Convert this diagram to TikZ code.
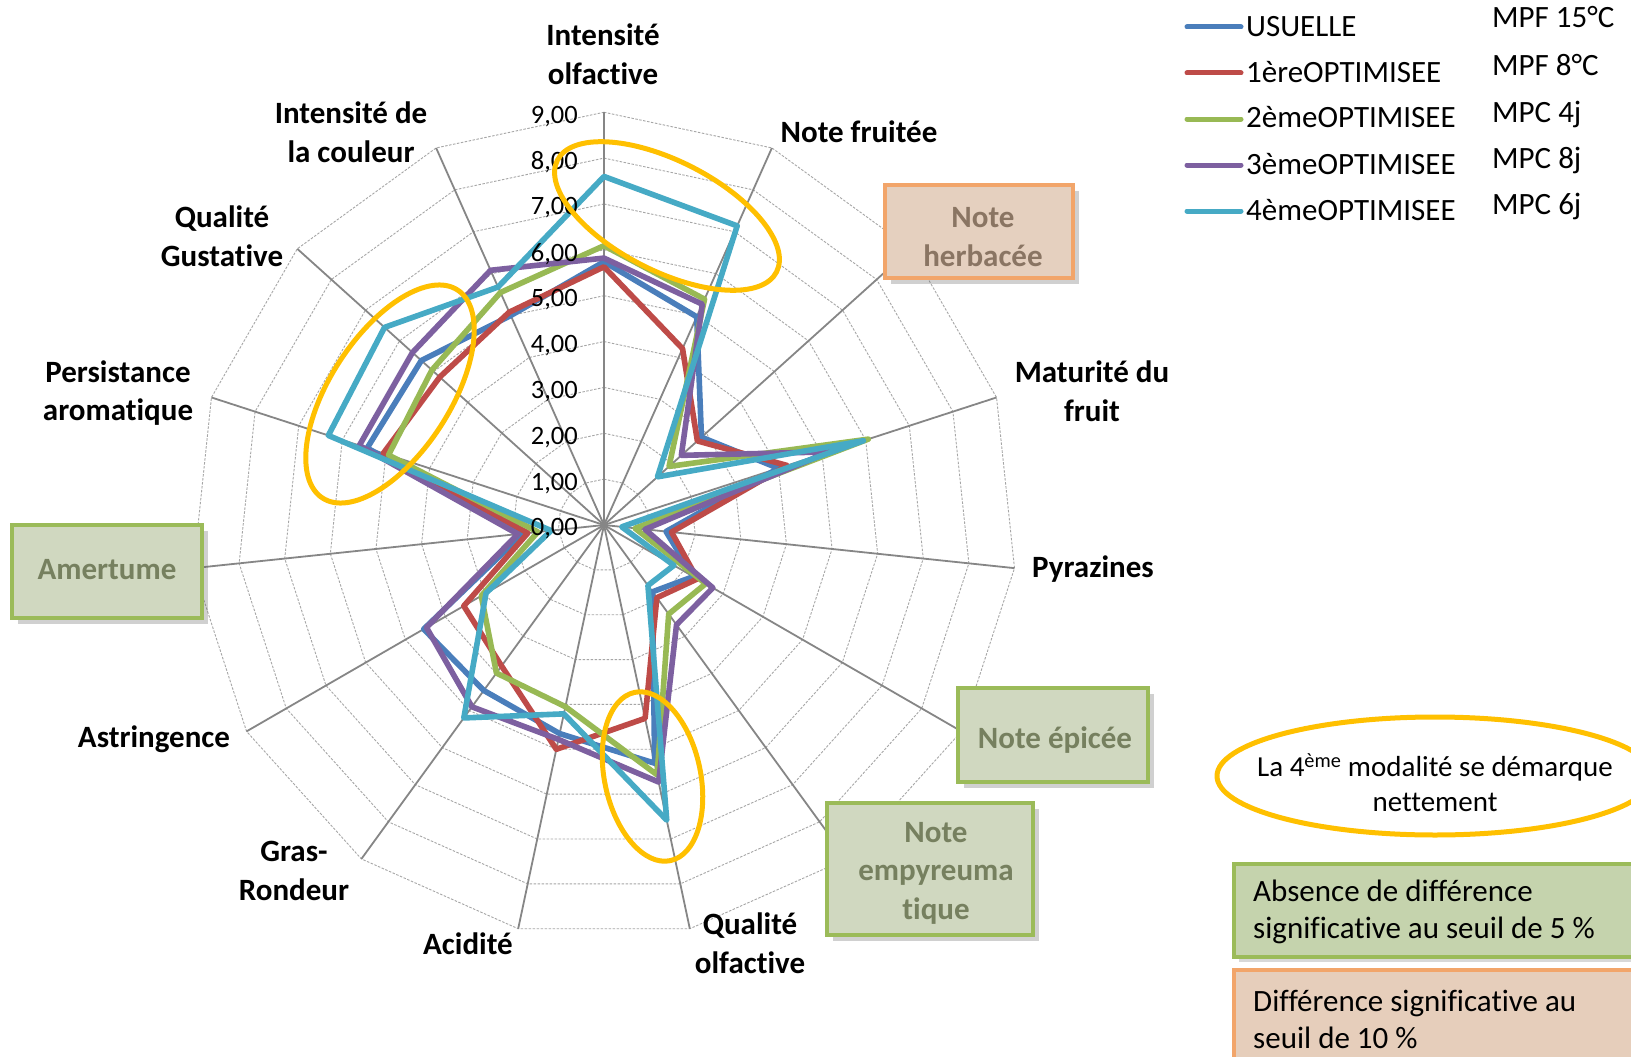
\documentclass[tikz,border=0pt]{standalone}
\usepackage{fontspec}
\setmainfont{Carlito}[Ligatures={NoCommon,NoRare,NoContextual},RawFeature={-liga;-clig;-dlig;-calt}]
\usetikzlibrary{shadows}
\definecolor{serA}{HTML}{4A7EBB}
\definecolor{serB}{HTML}{BE4B48}
\definecolor{serC}{HTML}{98B954}
\definecolor{serD}{HTML}{7D60A0}
\definecolor{serE}{HTML}{46AAC5}
\definecolor{axisgray}{HTML}{868686}
\definecolor{gridgray}{HTML}{A6A6A6}
\definecolor{hlyellow}{HTML}{FFC000}
\definecolor{grfill}{HTML}{D0D8C0}
\definecolor{grline}{HTML}{9BBB59}
\definecolor{grtext}{HTML}{76805F}
\definecolor{orfill}{HTML}{E5D0BF}
\definecolor{orline}{HTML}{F2A56A}
\definecolor{ortext}{HTML}{8A7563}
\definecolor{grfilltwo}{HTML}{C5D3AD}
\definecolor{orfilltwo}{HTML}{E6CEBB}
\newcommand{\radarseries}[3]{\draw[serline,#1] (-90:#2) \foreach \v [count=\k] in {#3}{ -- ({-90+24*\k}:\v)} -- cycle;}
\begin{document}
\begin{tikzpicture}[x=1pt,y=-1pt,
  gridline/.style={draw=gridgray,line width=0.9pt,dash pattern=on 2.5pt off 1.5pt},
  axisline/.style={draw=axisgray,line width=1.8pt},
  serline/.style={line width=5.6pt,line join=round},
  hl/.style={draw=hlyellow,line width=5pt},
  ticklab/.style={anchor=east,inner sep=0pt,font=\fontsize{26.5}{30}\selectfont},
  axlab/.style={align=center,inner sep=0pt,font=\bfseries\fontsize{31}{38.5}\selectfont},
  labbox/.style={draw,line width=4pt,inner sep=0pt,
     drop shadow={shadow xshift=6pt,shadow yshift=-6pt,opacity=0.3,fill=black!60}},
  labtext/.style={align=center,inner sep=0pt,font=\bfseries\fontsize{31}{38.5}\selectfont},
  legtext/.style={anchor=base west,inner sep=0pt,font=\fontsize{31}{36}\selectfont},
  notebox/.style={draw,line width=4pt,anchor=north west,inner sep=0pt,
     minimum width=420pt,
     drop shadow={shadow xshift=5pt,shadow yshift=-5pt,opacity=0.25,fill=black!60}},
  notetext/.style={anchor=west,align=left,inner sep=0pt,font=\fontsize{31}{37}\selectfont}
]
\useasboundingbox (0,0) rectangle (1631,1057);
\clip (0,0) rectangle (1631,1057);
\fill[white] (0,0) rectangle (1631,1057);

% ---- radar chart ----
\begin{scope}[shift={(604,525)},x=45.86pt,y=-45.86pt]
  \foreach \l in {1,...,9}
    \draw[gridline] (-90:\l) \foreach \k in {1,...,14}{ -- ({-90+24*\k}:\l)} -- cycle;
  \foreach \k in {0,...,14}
    \draw[axisline] (0,0) -- ({-90+24*\k}:9);
  \radarseries{serA}{5.74}{4.97,2.86,4.0,1.36,2.25,1.80,5.31,4.65,4.46,4.54,1.77,5.43,5.36,5.0}
  \radarseries{serB}{5.63}{4.21,2.74,4.2,1.48,2.35,1.96,4.31,5.0,3.8,3.53,1.67,5.06,4.82,5.08}
  \radarseries{serC}{6.09}{5.39,1.91,6.06,0.68,2.56,2.40,5.57,4.05,3.99,3.09,1.45,4.94,5.05,5.55}
  \radarseries{serD}{5.82}{5.27,2.27,5.16,0.9,2.74,2.69,5.73,4.78,4.9,4.47,1.89,5.61,5.62,6.08}
  \radarseries{serE}{7.6}{7.14,1.57,5.95,0.39,1.76,1.63,6.58,4.21,5.2,2.97,1.16,6.32,6.44,5.68}
\end{scope}

% tick labels
\foreach \l in {0,...,9}
  \node[ticklab] (tick\l) at (578,{529-45.86*\l}) {\l,00};

% axis labels
\node[axlab] (lIO) at (603,54) {Intensité\\olfactive};
\node[axlab] (lNF) at (859,132) {Note fruitée};
\node[axlab] (lMF) at (1092,391) {Maturité du\\fruit};
\node[axlab] (lPY) at (1093,569) {Pyrazines};
\node[axlab] (lQO) at (750,943) {Qualité\\olfactive};
\node[axlab] (lAC) at (468,944) {Acidité};
\node[axlab] (lGR) at (294,871) {Gras-\\Rondeur};
\node[axlab] (lAS) at (154,739) {Astringence};
\node[axlab] (lPA) at (118,393) {Persistance\\aromatique};
\node[axlab] (lQG) at (222,236) {Qualité\\Gustative};
\node[axlab] (lIC) at (351,132) {Intensité de\\la couleur};

% highlighted label boxes
\node[labbox,draw=orline,fill=orfill,minimum width=188pt,minimum height=93pt] (bNH) at (979,231.5) {};
\node[labtext,text=ortext] (lNH) at (983,237) {Note\\herbacée};
\node[labbox,draw=grline,fill=grfill,minimum width=190pt,minimum height=93pt] (bAM) at (107,571.5) {};
\node[labtext,text=grtext] (lAM) at (107,570) {Amertume};
\node[labbox,draw=grline,fill=grfill,minimum width=190pt,minimum height=94pt] (bNE) at (1053,735) {};
\node[labtext,text=grtext] (lNE) at (1055,740) {Note épicée};
\node[labbox,draw=grline,fill=grfill,minimum width=206pt,minimum height=132pt] (bNM) at (930,869) {};
\node[labtext,text=grtext] (lNM) at (936,873) {Note\\empyreuma\\tique};

% yellow ellipses on the chart
\draw[hl,rotate around={-27:(667,216)}] (667,216) ellipse [x radius=123, y radius=55];
\draw[hl,rotate around={57:(390,394)}] (390,394) ellipse [x radius=124, y radius=60];
\draw[hl,rotate around={-78:(652.5,776.5)}] (652.5,776.5) ellipse [x radius=86, y radius=48];

% legend
\draw[serA,line width=5pt,line cap=round] (1187,27) -- (1241,27);
\draw[serB,line width=5pt,line cap=round] (1187,73) -- (1241,73);
\draw[serC,line width=5pt,line cap=round] (1187,119) -- (1241,119);
\draw[serD,line width=5pt,line cap=round] (1187,165) -- (1241,165);
\draw[serE,line width=5pt,line cap=round] (1187,211) -- (1241,211);
\node[legtext] (gA) at (1246,37) {USUELLE};
\node[legtext] (gB) at (1246,83) {1èreOPTIMISEE};
\node[legtext] (gC) at (1246,128) {2èmeOPTIMISEE};
\node[legtext] (gD) at (1246,174) {3èmeOPTIMISEE};
\node[legtext] (gE) at (1246,220) {4èmeOPTIMISEE};
\node[legtext] (mA) at (1492,28) {MPF 15°C};
\node[legtext] (mB) at (1492,76) {MPF 8°C};
\node[legtext] (mC) at (1492,122) {MPC 4j};
\node[legtext] (mD) at (1492,168) {MPC 8j};
\node[legtext] (mE) at (1492,214) {MPC 6j};

% note ellipse
\draw[hl] (1435,776) ellipse [x radius=218, y radius=59];
\node[align=center,inner sep=0pt,font=\fontsize{29}{35}\selectfont] (nEl) at (1435,783)
  {La 4\textsuperscript{ème} modalité se démarque\\nettement};

% key boxes
\node[notebox,draw=grline,fill=grfilltwo,minimum height=93pt] (kG) at (1232,862) {};
\node[notetext] (kGt) at (1253,912) {Absence de différence\\significative au seuil de 5 \%};
\node[notebox,draw=orline,fill=orfilltwo,minimum height=110pt] (kO) at (1232,968) {};
\node[notetext] (kOt) at (1253,1019) {Différence significative au\\seuil de 10 \%};
\end{tikzpicture}
\end{document}
